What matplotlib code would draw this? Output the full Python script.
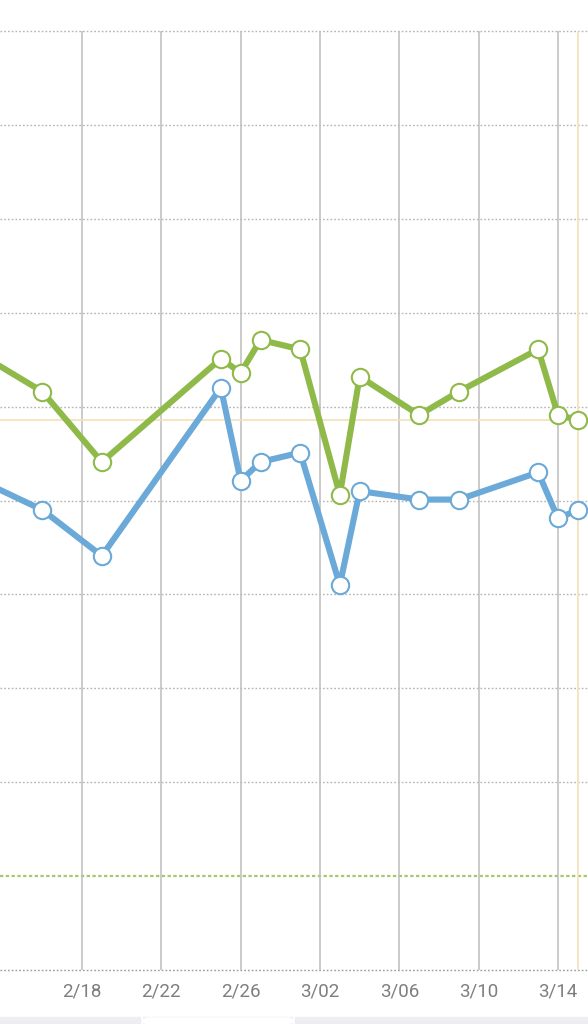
import datetime as dt
import matplotlib
matplotlib.use("Agg")
import matplotlib.pyplot as plt
from matplotlib.patches import Rectangle, FancyBboxPatch

# Data (y in arbitrary 0-100 units, grid every 10)
dates = ["2023-02-13", "2023-02-16", "2023-02-19", "2023-02-25", "2023-02-26",
         "2023-02-27", "2023-03-01", "2023-03-03", "2023-03-04", "2023-03-07",
         "2023-03-09", "2023-03-13", "2023-03-14", "2023-03-15"]
green = [65.4, 61.6, 54.1, 65.1, 63.6, 67.1, 66.1, 50.6, 63.2, 59.1,
         61.6, 66.1, 59.1, 58.6]
blue = [52.0, 49.0, 44.1, 62.0, 52.1, 54.1, 55.1, 41.0, 51.0, 50.1,
        50.1, 53.0, 48.1, 49.0]
tick_dates = ["2023-02-18", "2023-02-22", "2023-02-26", "2023-03-02",
              "2023-03-06", "2023-03-10", "2023-03-14"]
tick_labels = ["2/18", "2/22", "2/26", "3/02", "3/06", "3/10", "3/14"]
goal = 10
cursor_date = "2023-03-15"
cursor_value = 58.6

x = [dt.datetime.fromisoformat(d) for d in dates]
ticks = [dt.datetime.fromisoformat(d) for d in tick_dates]
cursor_x = dt.datetime.fromisoformat(cursor_date)

green_c = "#8fba4a"
blue_c = "#6aa9d8"
grid_c = "#bdbdbd"
text_c = "#7e7e82"

fig = plt.figure(figsize=(5.88, 10.24), dpi=100)
ax = fig.add_axes([0, 54 / 1024, 1, 939 / 1024])

x0 = ticks[0] - dt.timedelta(days=4.135)
x1 = ticks[-1] + dt.timedelta(days=1.513)
ax.set_xlim(x0, x1)
ax.set_ylim(0, 100)

# horizontal dotted grid
for yv in range(0, 101, 10):
    if yv == goal:
        continue
    col = "#9a9a9a" if yv == 0 else "#b4b4b4"
    ax.axhline(yv, color=col, lw=1, ls=(0, (1.2, 1.5)), zorder=1, clip_on=False)
ax.axhline(goal, color="#a8c66a", lw=1.6, ls=(0, (1.5, 1.1)), zorder=1)

# vertical grid
for t in ticks:
    ax.axvline(t, color=grid_c, lw=1.1, zorder=1)

# cursor crosshair
ax.axvline(cursor_x, color="#f6dfb6", lw=1.2, zorder=1.5)
ax.axhline(cursor_value, color="#f6dfb6", lw=1.2, zorder=1.5)

ax.plot(x, blue, color=blue_c, lw=4.4, marker="o", ms=12.5,
        mfc="white", mec=blue_c, mew=1.5, zorder=3, solid_joinstyle="round")
ax.plot(x, green, color=green_c, lw=4.4, marker="o", ms=12.5,
        mfc="white", mec=green_c, mew=1.5, zorder=4, solid_joinstyle="round")

ax.set_xticks(ticks)
ax.set_xticklabels(tick_labels)
ax.set_yticks([])
ax.tick_params(axis="x", length=0, pad=9, labelsize=13.5, labelcolor=text_c)
for lab in ax.get_xticklabels():
    lab.set_fontfamily(["Roboto", "DejaVu Sans"])
for s in ax.spines.values():
    s.set_visible(False)

# bottom bar of the screen
fig.patches.append(Rectangle((0, 0), 1, 7 / 1024, transform=fig.transFigure,
                             color="#ededf2", zorder=0))
fig.patches.append(FancyBboxPatch((142 / 588, 0), 152 / 588, 6 / 1024,
                                  boxstyle="round,pad=0,rounding_size=0.01",
                                  transform=fig.transFigure, color="white",
                                  zorder=1))

fig.savefig("out.png", dpi=100)
